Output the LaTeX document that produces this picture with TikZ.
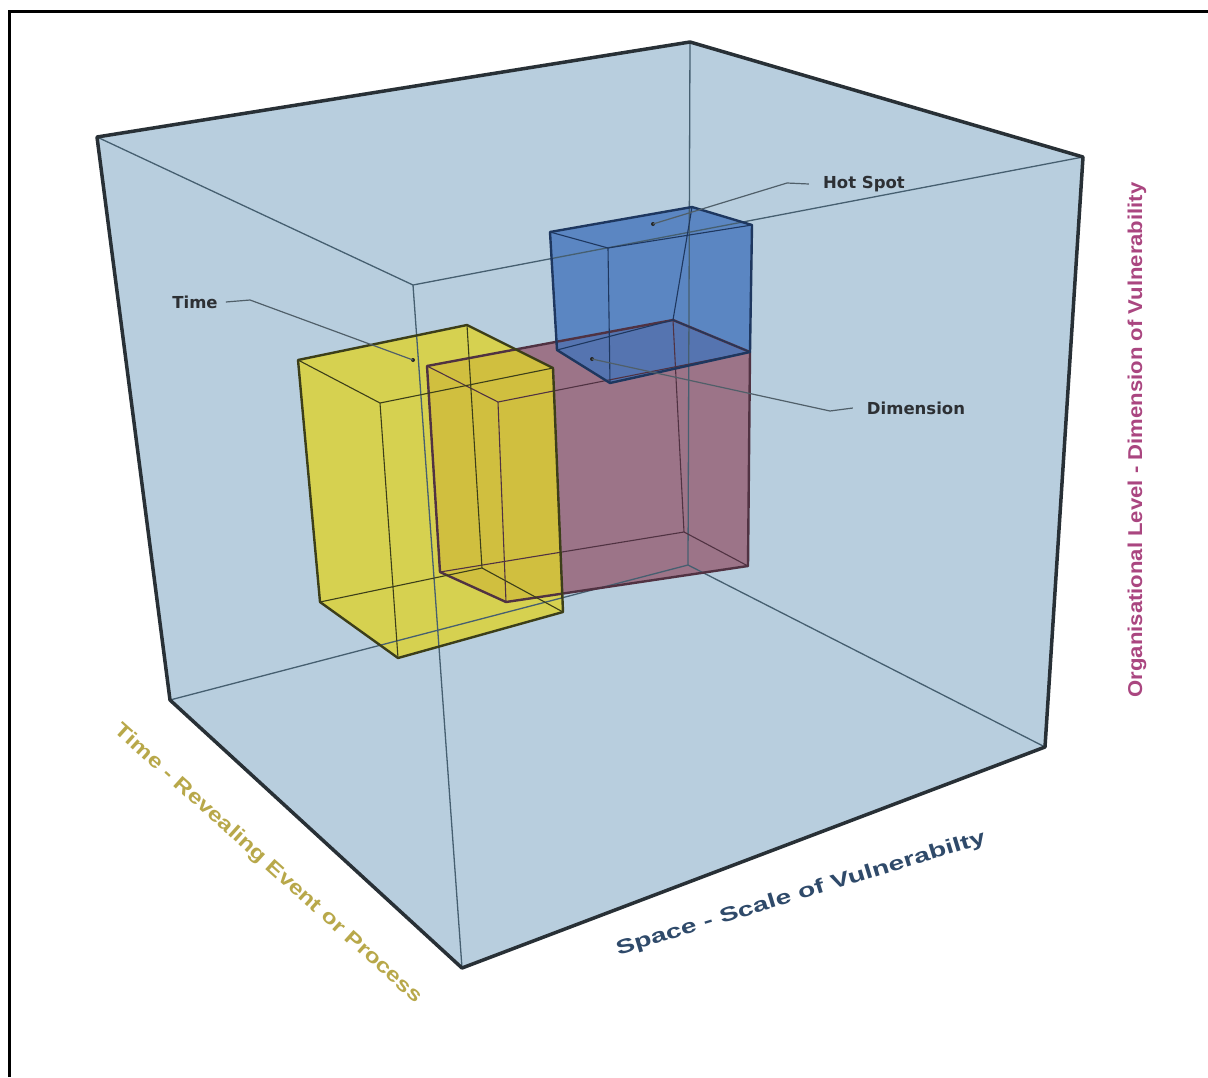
\documentclass[tikz,border=0pt]{standalone}
\usepackage{fontspec}
\setmainfont{DejaVu Sans}
\newfontfamily\axfont{Liberation Sans}
\definecolor{cubefill}{RGB}{184,206,222}
\definecolor{cubeedge}{RGB}{40,48,54}
\definecolor{cubeinner}{RGB}{70,95,112}
\definecolor{yfill}{RGB}{222,210,45}
\definecolor{yedge}{RGB}{60,62,25}
\definecolor{pfill}{RGB}{149,94,115}
\definecolor{pedge}{RGB}{80,50,66}
\definecolor{bfill}{RGB}{68,117,187}
\definecolor{bedge}{RGB}{30,55,95}
\definecolor{lblcol}{RGB}{45,48,52}
\definecolor{leadcol}{RGB}{80,95,105}
\definecolor{timecol}{RGB}{184,168,74}
\definecolor{spacecol}{RGB}{47,74,106}
\definecolor{orgcol}{RGB}{170,70,128}
\tikzset{
  cubeout/.style={draw=cubeedge, line width=3.5pt, line join=round},
  cubein/.style={draw=cubeinner, line width=1.3pt},
  boxin/.style={line width=1.1pt},
  boxout/.style={line width=2.4pt, line join=round},
  lbl/.style={font=\fontsize{16.5}{19}\selectfont\bfseries, text=lblcol, inner sep=0pt},
  lead/.style={draw=leadcol, line width=1.2pt},
  axlbl/.style={font=\axfont\fontsize{20}{22}\selectfont\bfseries, inner sep=0pt},
  hotdot/.style={circle, fill=black!85, inner sep=0pt, minimum size=4pt}
}
\begin{document}
\begin{tikzpicture}[x=1pt,y=-1pt]
\useasboundingbox (0,0) rectangle (1208,1077);
\fill[white] (0,0) rectangle (1208,1077);
% frame
\draw[line width=2.5pt] (9.5,1077) -- (9.5,11.5) -- (1208,11.5);

% big cube
\coordinate (A) at (97,137);
\coordinate (T) at (690,42);
\coordinate (B) at (1083,157);
\coordinate (C) at (1045,747);
\coordinate (F) at (462,968);
\coordinate (D) at (170,700);
\coordinate (E) at (413,285);
\coordinate (G) at (688,565);

% yellow box
\coordinate (yLT) at (298,360); \coordinate (yBT) at (467,325);
\coordinate (yRT) at (553,368); \coordinate (yFT) at (380,403);
\coordinate (yLB) at (320,602); \coordinate (yBB) at (482,568);
\coordinate (yRB) at (563,612); \coordinate (yFB) at (398,658);
% pink box
\coordinate (pLT) at (427,366); \coordinate (pBT) at (673,320);
\coordinate (pRT) at (750,352); \coordinate (pFT) at (498,402);
\coordinate (pLB) at (440,572); \coordinate (pBB) at (684,532);
\coordinate (pRB) at (748,566); \coordinate (pFB) at (506,602);
% blue box
\coordinate (bLT) at (550,232); \coordinate (bBT) at (692,207);
\coordinate (bRT) at (752,225); \coordinate (bFT) at (608,248);
\coordinate (bLB) at (557,350); \coordinate (bBB) at (673,320);
\coordinate (bRB) at (750,352); \coordinate (bFB) at (610,383);

\fill[cubefill] (A)--(T)--(B)--(C)--(F)--(D)--cycle;

% fills
\fill[pfill, fill opacity=0.8] (pLT)--(pBT)--(pRT)--(pRB)--(pFB)--(pLB)--cycle;
\fill[bfill, fill opacity=0.8] (bLT)--(bBT)--(bRT)--(bRB)--(bFB)--(bLB)--cycle;
\fill[yfill, fill opacity=0.8] (yLT)--(yBT)--(yRT)--(yRB)--(yFB)--(yLB)--cycle;

% cube inner edges
\draw[cubein] (A)--(E)--(B) (E)--(F);
\draw[cubein] (D)--(G)--(C) (G)--(T);

% box edges
\draw[boxin, draw=pedge] (pLT)--(pFT)--(pRT) (pFT)--(pFB) (pLB)--(pBB)--(pRB) (pBB)--(pBT);
\draw[boxout, draw=pedge] (pLT)--(pBT)--(pRT)--(pRB)--(pFB)--(pLB)--cycle;
\draw[boxin, draw=bedge] (bLT)--(bFT)--(bRT) (bFT)--(bFB) (bLB)--(bBB)--(bRB) (bBB)--(bBT);
\draw[boxout, draw=bedge] (bLT)--(bBT)--(bRT)--(bRB)--(bFB)--(bLB)--cycle;
\draw[boxin, draw=yedge] (yLT)--(yFT)--(yRT) (yFT)--(yFB) (yLB)--(yBB)--(yRB) (yBB)--(yBT);
\draw[boxout, draw=yedge] (yLT)--(yBT)--(yRT)--(yRB)--(yFB)--(yLB)--cycle;

% cube outline
\draw[cubeout] (A)--(T)--(B)--(C)--(F)--(D)--cycle;

% labels with leaders
\node[lbl] (time) at (195,302) {Time};
\node[lbl] (hot) at (864,184) {Hot Spot};
\node[lbl] (dim) at (916,408) {Dimension};
\node[hotdot] (dt) at (413,360) {};
\node[hotdot] (dh) at (653,224) {};
\node[hotdot] (dd) at (592,359) {};
\coordinate (t1) at (250,300);
\coordinate (h1) at (787,183);
\coordinate (d1) at (830,411);
\draw[lead] ([xshift=8pt]time.east) -- (t1) -- (dt.center);
\draw[lead] ([xshift=-14pt]hot.west) -- (h1) -- (dh.center);
\draw[lead] ([xshift=-14pt]dim.west) -- (d1) -- (dd.center);

% axis labels
\node[axlbl, text=timecol, rotate=-42] (tax) at (268,864)
  {\resizebox{406pt}{\height}{Time - Revealing Event or Process}};
\node[axlbl, text=spacecol, rotate=17] (sax) at (801,894)
  {\resizebox{385pt}{\height}{Space - Scale of Vulnerabilty}};
\node[axlbl, text=orgcol, rotate=90] (oax) at (1137,440)
  {\resizebox{515pt}{\height}{Organisational Level - Dimension of Vulnerability}};
\end{tikzpicture}
\end{document}
